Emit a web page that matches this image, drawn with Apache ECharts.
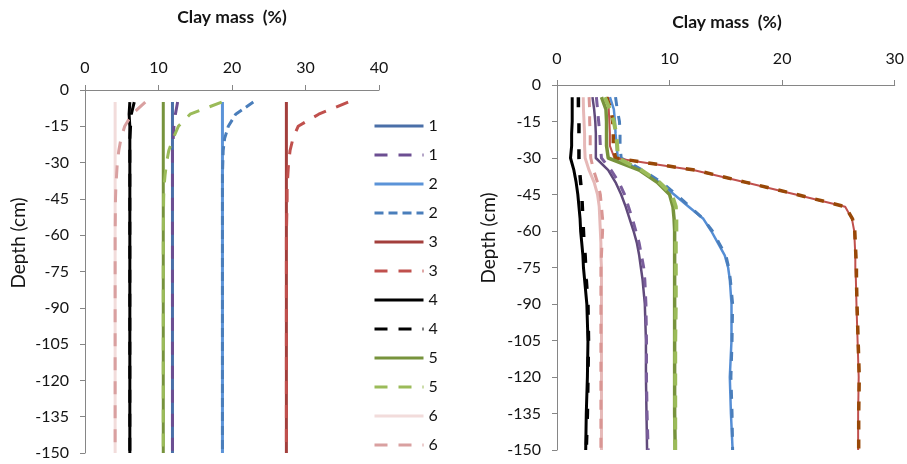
<!DOCTYPE html>
<html><head><meta charset="utf-8">
<script src="https://cdn.jsdelivr.net/npm/echarts@6/dist/echarts.min.js"></script>
<style>html,body{margin:0;padding:0;background:#fff}#c{width:907px;height:464px}</style>
</head><body><div id="c"></div>
<script>
// ---- Left panel data (depth in cm, clay mass in %) ----
const leftDepth = [-5,-10,-15,-20,-25,-30,-35,-40,-45,-60,-75,-90,-105,-120,-135,-150];
const left1Solid = [11.9,11.9,11.9,11.9,11.9,11.9,11.9,11.9,11.9,11.9,11.9,11.9,11.9,11.9,11.9,11.9];
const left1Dash  = [12.6,12.3,12.1,12.0,11.9,11.9,11.9,11.9,11.9,11.9,11.9,11.9,11.9,11.9,11.9,11.9];
const left2Solid = [18.7,18.7,18.7,18.7,18.7,18.7,18.7,18.7,18.7,18.7,18.7,18.7,18.7,18.7,18.7,18.7];
const left2Dash  = [22.9,20.5,19.5,19.0,18.8,18.75,18.7,18.7,18.7,18.7,18.7,18.7,18.7,18.7,18.7,18.7];
const left3Solid = [27.4,27.4,27.4,27.4,27.4,27.4,27.4,27.4,27.4,27.4,27.4,27.4,27.4,27.4,27.4,27.4];
const left3Dash  = [35.8,31.8,29.0,28.3,27.9,27.7,27.6,27.5,27.5,27.4,27.4,27.4,27.4,27.4,27.4,27.4];
const left4Solid = [6.1,6.0,6.1,6.1,6.1,6.1,6.1,6.1,6.1,6.1,6.1,6.1,6.1,6.1,6.1,6.1];
const left4Dash  = [6.7,6.3,6.2,6.1,6.1,6.1,6.1,6.1,6.1,6.1,6.1,6.1,6.1,6.1,6.1,6.1];
const left5Solid = [10.65,10.65,10.65,10.65,10.65,10.65,10.65,10.65,10.65,10.65,10.65,10.65,10.65,10.65,10.65,10.65];
const left5Dash  = [18.6,14.3,12.7,12.0,11.4,11.1,10.9,10.75,10.7,10.65,10.65,10.65,10.65,10.65,10.65,10.65];
const left6Solid = [4.1,4.1,4.1,4.1,4.1,4.1,4.1,4.1,4.1,4.1,4.1,4.1,4.1,4.1,4.1,4.1];
const left6Dash  = [8.2,6.4,5.4,4.9,4.6,4.4,4.3,4.2,4.15,4.1,4.1,4.1,4.1,4.1,4.1,4.1];
const legendLabels = ['1','1','2','2','3','3','4','4','5','5','6','6'];

// ---- Right panel data ----
const rightDepth = [-5,-10,-15,-20,-25,-30,-35,-40,-45,-50,-55,-60,-65,-70,-75,-80,-90,-105,-120,-135,-150];
const rBlackSolid  = [1.35,1.35,1.35,1.3,1.3,1.2,1.5,1.7,1.85,1.95,2.05,2.1,2.2,2.3,2.35,2.45,2.65,2.75,2.7,2.6,2.55];
const rBlackDash   = [1.9,1.9,1.95,1.95,1.95,1.95,2.0,2.1,2.2,2.25,2.3,2.35,2.4,2.5,2.55,2.6,2.75,2.8,2.75,2.7,2.6];
const rPinkSolid   = [2.33,2.35,2.4,2.45,2.45,2.5,2.85,3.3,3.6,3.75,3.8,3.85,3.9,3.9,3.95,3.95,3.95,3.95,3.95,3.95,3.95];
const rPinkDash    = [2.85,2.9,2.9,2.95,2.95,3.0,3.25,3.6,3.85,3.95,4.05,4.05,4.0,3.95,3.9,3.9,3.9,3.9,3.9,3.9,3.9];
const rPurpleSolid = [3.15,3.3,3.4,3.45,3.45,3.45,4.55,5.2,5.7,6.1,6.45,6.8,7.1,7.3,7.45,7.6,7.8,7.9,7.9,7.95,8.0];
const rPurpleDash  = [3.5,3.6,3.7,3.8,3.85,3.95,4.8,5.5,6.0,6.35,6.7,7.0,7.3,7.5,7.7,7.8,7.9,7.95,7.95,8.0,8.1];
const rGreenSolid  = [3.95,4.35,4.4,4.4,4.4,4.55,7.3,8.9,10.0,10.3,10.4,10.45,10.45,10.45,10.45,10.45,10.45,10.45,10.45,10.45,10.5];
const rGreenDash   = [4.25,4.7,5.05,5.25,5.35,5.4,7.5,9.1,10.2,10.55,10.6,10.6,10.55,10.55,10.55,10.55,10.55,10.5,10.5,10.5,10.5];
const rBlueSolid   = [4.7,5.05,5.15,5.2,5.3,5.4,7.4,9.1,10.4,11.7,13.0,13.7,14.3,14.9,15.2,15.35,15.5,15.5,15.35,15.45,15.6];
const rBlueDash    = [5.2,5.35,5.55,5.6,5.6,5.7,7.6,9.3,10.6,11.8,13.0,13.8,14.4,15.0,15.25,15.4,15.6,15.55,15.45,15.55,15.6];
const rRedSolid    = [4.55,4.6,4.65,4.7,4.7,5.1,12.2,16.7,21.2,25.6,26.2,26.4,26.45,26.5,26.5,26.55,26.6,26.7,26.8,26.75,26.75];
const rBrownDash   = [4.4,4.8,4.95,5.0,5.0,5.2,12.3,16.8,21.3,25.6,26.25,26.45,26.5,26.55,26.6,26.6,26.65,26.75,26.85,26.8,26.8];

const xTitle = 'Clay mass  (%)';
const yTitle = 'Depth (cm)';

const FONT = 'Lato';
const pair = (vals, depth) => vals.map((v, i) => [v, depth[i]]);

function mk(name, vals, depth, color, width, dash, axis) {
  return {
    name: name, type: 'line', xAxisIndex: axis, yAxisIndex: axis,
    data: pair(vals, depth), symbol: 'none', showSymbol: false, smooth: false,
    lineStyle: { color: color, width: width, type: dash, cap: 'butt', join: 'round' },
    itemStyle: { color: color },
    emphasis: { disabled: true }, animation: false
  };
}
const DASH = [13, 11];
const DOT = [9, 5];

const leftSeries = [
  mk('L1a', left1Solid, leftDepth, '#4A6FA8', 3, 'solid', 0),
  mk('L1b', left1Dash,  leftDepth, '#6C4E92', 3, DASH, 0),
  mk('L2a', left2Solid, leftDepth, '#5B93D8', 3, 'solid', 0),
  mk('L2b', left2Dash,  leftDepth, '#4A7EBB', 3, DOT, 0),
  mk('L3a', left3Solid, leftDepth, '#A33F3C', 3, 'solid', 0),
  mk('L3b', left3Dash,  leftDepth, '#C0504D', 3, DASH, 0),
  mk('L4a', left4Solid, leftDepth, '#000000', 3, 'solid', 0),
  mk('L4b', left4Dash,  leftDepth, '#000000', 3, DASH, 0),
  mk('L5a', left5Solid, leftDepth, '#77933C', 3, 'solid', 0),
  mk('L5b', left5Dash,  leftDepth, '#9BBB59', 3, DASH, 0),
  mk('L6a', left6Solid, leftDepth, '#F2DCDB', 3, 'solid', 0),
  mk('L6b', left6Dash,  leftDepth, '#D9A0A0', 3, DASH, 0)
];
const rightSeries = [
  mk('R2a', rBlueSolid,   rightDepth, '#558ED5', 2.5, 'solid', 1),
  mk('R2b', rBlueDash,    rightDepth, '#4A7EBB', 3, [9, 10], 1),
  mk('R3a', rRedSolid,    rightDepth, '#C0504D', 2, 'solid', 1),
  mk('R3b', rBrownDash,   rightDepth, '#984807', 3.5, [9, 10], 1),
  mk('R1a', rPurpleSolid, rightDepth, '#604A7B', 2.5, 'solid', 1),
  mk('R1b', rPurpleDash,  rightDepth, '#7A5E9C', 3, [10, 9], 1),
  mk('R6a', rPinkSolid,   rightDepth, '#E6B9B8', 3, 'solid', 1),
  mk('R6b', rPinkDash,    rightDepth, '#D99694', 3, [10, 9], 1),
  mk('R4a', rBlackSolid,  rightDepth, '#000000', 3, 'solid', 1),
  mk('R4b', rBlackDash,   rightDepth, '#000000', 3.5, [10, 16], 1),
  mk('R5a', rGreenSolid,  rightDepth, '#77933C', 3.5, 'solid', 1),
  mk('R5b', rGreenDash,   rightDepth, '#9BBB59', 4, [12, 10], 1)
];

const axisLineStyle = { color: '#868686', width: 1 };
const labelStyle = { fontFamily: FONT, fontSize: 16, color: '#141414' };

function xAx(grid, max, margin) {
  return {
    gridIndex: grid, type: 'value', position: 'top', min: 0, max: max, interval: 10,
    axisLine: { show: true, onZero: false, lineStyle: axisLineStyle },
    axisTick: { show: true, length: 5, lineStyle: axisLineStyle },
    splitLine: { show: false },
    axisLabel: Object.assign({ margin: margin }, labelStyle)
  };
}
function yAx(grid) {
  return {
    gridIndex: grid, type: 'value', min: -150, max: 0, interval: 15,
    axisLine: { show: true, onZero: false, lineStyle: axisLineStyle },
    axisTick: { show: true, length: 5, lineStyle: axisLineStyle },
    splitLine: { show: false },
    axisLabel: Object.assign({ margin: 16 }, labelStyle)
  };
}

const titleStyle = { fontFamily: FONT, fontWeight: 'bold', fontSize: 17.5, fill: '#141414', align: 'center', verticalAlign: 'middle' };
const yTitleStyle = { fontFamily: FONT, fontSize: 19, fill: '#141414', align: 'center', verticalAlign: 'middle' };

const chart = echarts.init(document.getElementById('c'), null, { renderer: 'canvas' });
chart.setOption({
  animation: false,
  backgroundColor: '#ffffff',
  grid: [
    { left: 85, top: 90, width: 294, height: 363 },
    { left: 557, top: 85, width: 339, height: 365 }
  ],
  xAxis: [xAx(0, 40, 14), xAx(1, 30, 18)],
  yAxis: [yAx(0), yAx(1)],
  legend: {
    orient: 'vertical', left: 373, top: 118, padding: 0,
    itemWidth: 49, itemHeight: 14, itemGap: 13,
    data: leftSeries.map(s => s.name),
    formatter: (n) => legendLabels[leftSeries.findIndex(s => s.name === n)],
    textStyle: { fontFamily: FONT, fontSize: 16, color: '#141414', lineHeight: 14 },
    lineStyle: { width: 3 },
    itemStyle: { opacity: 0 },
    selectedMode: false
  },
  graphic: [
    { type: 'text', x: 232, y: 17, style: Object.assign({ text: xTitle }, titleStyle) },
    { type: 'text', x: 727, y: 22, style: Object.assign({ text: xTitle }, titleStyle) },
    { type: 'text', x: 19, y: 243, rotation: Math.PI / 2, style: Object.assign({ text: yTitle }, yTitleStyle) },
    { type: 'text', x: 489, y: 238, rotation: Math.PI / 2, style: Object.assign({ text: yTitle }, yTitleStyle) }
  ],
  series: leftSeries.concat(rightSeries)
});
</script></body></html>
